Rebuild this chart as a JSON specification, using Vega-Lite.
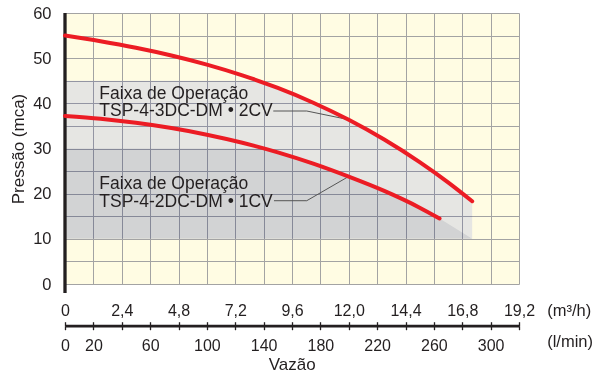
{
  "$schema": "https://vega.github.io/schema/vega-lite/v6.json",
  "width": 454,
  "height": 271,
  "autosize": {"type": "none"},
  "padding": {"left": 65, "top": 13, "right": 79, "bottom": 90},
  "background": "white",
  "config": {
    "view": {"stroke": null, "fill": "#fffce3"},
    "font": "Liberation Sans",
    "axis": {
      "labelFont": "Liberation Sans",
      "titleFont": "Liberation Sans",
      "labelColor": "#231f20",
      "titleColor": "#231f20",
      "titleFontWeight": "normal"
    }
  },
  "datasets": {
    "faixa2": [
      {"q": 0, "h": 45}, {"q": 135.7, "h": 45}, {"q": 150, "h": 43.4}, {"q": 175, "h": 40.14},
      {"q": 200, "h": 36.35}, {"q": 225, "h": 31.98}, {"q": 250, "h": 26.98}, {"q": 270, "h": 22.5},
      {"q": 287, "h": 18.32}
    ],
    "faixa1": [
      {"q": 0, "h": 30}, {"q": 140, "h": 30}, {"q": 150, "h": 29.14}, {"q": 175, "h": 26.64},
      {"q": 200, "h": 23.76}, {"q": 225, "h": 20.6}, {"q": 250, "h": 16.9}, {"q": 264, "h": 14.5},
      {"q": 287, "h": 10}
    ],
    "curve2": [
      {"q": 0, "h": 55}, {"q": 25, "h": 53.76}, {"q": 50, "h": 52.31}, {"q": 75, "h": 50.6},
      {"q": 100, "h": 48.58}, {"q": 125, "h": 46.2}, {"q": 150, "h": 43.4}, {"q": 175, "h": 40.14},
      {"q": 200, "h": 36.35}, {"q": 225, "h": 31.98}, {"q": 250, "h": 26.98}, {"q": 270, "h": 22.5},
      {"q": 287, "h": 18.32}
    ],
    "curve1": [
      {"q": 0, "h": 37.2}, {"q": 25, "h": 36.57}, {"q": 50, "h": 35.68}, {"q": 75, "h": 34.52},
      {"q": 100, "h": 33.05}, {"q": 125, "h": 31.27}, {"q": 150, "h": 29.14}, {"q": 175, "h": 26.64},
      {"q": 200, "h": 23.76}, {"q": 225, "h": 20.6}, {"q": 250, "h": 16.9}, {"q": 264, "h": 14.5}
    ],
    "leaders": [
      {"g": "2CV", "q": 146.8, "h": 38.3}, {"g": "2CV", "q": 170.4, "h": 38.3}, {"g": "2CV", "q": 199.7, "h": 36.4},
      {"g": "1CV", "q": 147.3, "h": 18.44}, {"g": "1CV", "q": 170.4, "h": 18.44}, {"g": "1CV", "q": 199.7, "h": 23.76}
    ],
    "notes": [
      {"q": 24.2, "h": 40.9, "t": "Faixa de Operação"},
      {"q": 24.2, "h": 37.1, "t": "TSP-4-3DC-DM • 2CV"},
      {"q": 24.2, "h": 21.0, "t": "Faixa de Operação"},
      {"q": 24.2, "h": 17.15, "t": "TSP-4-2DC-DM • 1CV"}
    ]
  },
  "layer": [
    {
      "encoding": {
        "x": {
          "field": "q", "type": "quantitative",
          "scale": {"domain": [0, 320], "nice": false, "zero": false},
          "axis": {
            "orient": "bottom", "grid": true, "labels": false, "ticks": false, "domain": false,
            "values": [0, 20, 40, 60, 80, 100, 120, 140, 160, 180, 200, 220, 240, 260, 280, 300, 320],
            "gridColor": "#a3a3a3", "gridWidth": 1, "gridOpacity": 1,
            "title": "(l/min)", "titleFontSize": 16.5, "titleAlign": "left", "titleBaseline": "alphabetic",
            "titleX": 481.7, "titleY": 62.7, "titleAngle": 0
          }
        },
        "y": {
          "field": "h", "type": "quantitative",
          "scale": {"domain": [0, 60], "nice": false, "zero": false},
          "axis": {
            "orient": "left", "grid": true, "ticks": false, "tickSize": 0, "domain": false,
            "values": [0, 5, 10, 15, 20, 25, 30, 35, 40, 45, 50, 55, 60],
            "labelExpr": "datum.value % 10 === 0 ? datum.label : ''",
            "labelFontSize": 16.5, "labelPadding": 14, "labelOverlap": false,
            "gridColor": "#a3a3a3", "gridWidth": 1, "gridOpacity": 1,
            "title": "Pressão (mca)", "titleFontSize": 17, "titleAngle": -90,
            "titleAlign": "center", "titleBaseline": "alphabetic",
            "titleX": -41.7, "titleY": 135.5
          }
        }
      },
      "layer": [
        {
          "data": {"name": "faixa2"},
          "mark": {"type": "area", "color": "#e6e9ff", "blend": "multiply"},
          "encoding": {"y2": {"datum": 10}}
        },
        {
          "data": {"name": "faixa1"},
          "mark": {"type": "area", "color": "#e9eaee", "blend": "multiply"},
          "encoding": {"y2": {"datum": 10}}
        },
        {
          "data": {"name": "leaders"},
          "mark": {"type": "line", "color": "#555555", "strokeWidth": 1},
          "encoding": {"detail": {"field": "g"}}
        },
        {
          "data": {"name": "notes"},
          "mark": {"type": "text", "align": "left", "baseline": "alphabetic", "fontSize": 17.5, "color": "#231f20", "font": "Liberation Sans"},
          "encoding": {"text": {"field": "t"}}
        }
      ]
    },
    {
      "data": {"values": [{}]},
      "mark": {"type": "rule", "color": "#231f20", "strokeWidth": 3.3},
      "encoding": {
        "x": {"datum": 0, "type": "quantitative", "scale": {"domain": [0, 320], "nice": false, "zero": false}, "axis": null},
        "y": {"datum": 60, "type": "quantitative", "scale": {"domain": [0, 60], "nice": false, "zero": false}, "axis": null},
        "y2": {"datum": -2}
      }
    },
    {
      "data": {"name": "curve2"},
      "mark": {"type": "line", "color": "#ec1c24", "strokeWidth": 4, "strokeCap": "round", "interpolate": "monotone"},
      "encoding": {
        "x": {
          "field": "q", "type": "quantitative",
          "scale": {"domain": [0, 320], "nice": false, "zero": false},
          "axis": {
            "orient": "top", "offset": -312.7, "grid": false, "domain": false,
            "values": [0, 20, 40, 60, 80, 100, 120, 140, 160, 180, 200, 220, 240, 260, 280, 300, 320],
            "ticks": true, "tickSize": 4, "tickWidth": 1.3, "tickColor": "#231f20",
            "labelExpr": "datum.value % 40 !== 0 ? '' : (datum.value === 0 ? '0' : replace(format(datum.value * 0.06, '.1f'), '.', ','))",
            "labelFontSize": 16, "labelPadding": 6, "labelBaseline": "alphabetic",
            "labelFlush": false, "labelOverlap": false, "labelBound": false,
            "title": "(m³/h)", "titleFontSize": 16.5, "titleAlign": "left", "titleBaseline": "alphabetic",
            "titleX": 481.7, "titleY": -10.7, "titleAngle": 0
          }
        },
        "y": {"field": "h", "type": "quantitative", "scale": {"domain": [0, 60], "nice": false, "zero": false}, "axis": null}
      }
    },
    {
      "data": {"name": "curve1"},
      "mark": {"type": "line", "color": "#ec1c24", "strokeWidth": 4, "strokeCap": "round", "interpolate": "monotone"},
      "encoding": {
        "x": {
          "field": "q", "type": "quantitative",
          "scale": {"domain": [0, 320], "nice": false, "zero": false},
          "axis": {
            "orient": "bottom", "offset": 41.7, "grid": false,
            "domain": true, "domainColor": "#231f20", "domainWidth": 2.7,
            "values": [0, 20, 40, 60, 80, 100, 120, 140, 160, 180, 200, 220, 240, 260, 280, 300, 320],
            "ticks": true, "tickSize": 4, "tickWidth": 1.3, "tickColor": "#231f20",
            "labelExpr": "(datum.value === 0 || datum.value === 20 || (datum.value % 40 === 20 && datum.value <= 300)) ? datum.label : ''",
            "labelFontSize": 16, "labelPadding": 20.3, "labelBaseline": "alphabetic",
            "labelFlush": false, "labelOverlap": false, "labelBound": false,
            "title": "Vazão", "titleFontSize": 17, "titleAlign": "center", "titleBaseline": "alphabetic",
            "titleX": 226.7, "titleY": 43.6, "titleAngle": 0
          }
        },
        "y": {"field": "h", "type": "quantitative", "scale": {"domain": [0, 60], "nice": false, "zero": false}, "axis": null}
      }
    }
  ],
  "resolve": {"scale": {"x": "independent", "y": "independent"}}
}
